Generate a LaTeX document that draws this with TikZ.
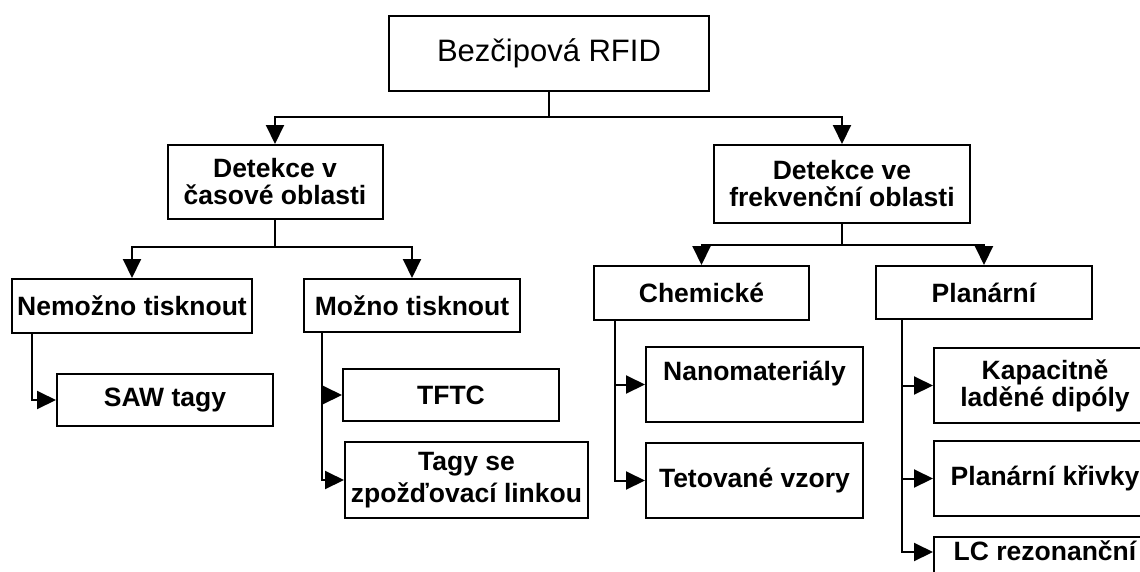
\documentclass[tikz,border=0pt]{standalone}
\usepackage{fontspec}
\setmainfont{Liberation Sans}
\usetikzlibrary{arrows.meta, positioning}

\begin{document}
\begin{tikzpicture}[x=1pt, y=-1pt,
  box/.style={draw, line width=2pt, align=center, inner sep=4pt, font=\fontsize{26.5}{27}\selectfont\bfseries},
  link/.style={line width=2pt},
  arr/.style={line width=2pt, -{Triangle[length=19pt, width=18pt]}}]

  \useasboundingbox (0,0) rectangle (1140,571);
  \fill[white] (0,0) rectangle (1140,571);
  \clip (0,0) rectangle (1140,571);

  % Root
  \node[box, font=\fontsize{31}{32}\selectfont, minimum width=320, minimum height=75] (root) at (549,53.5) {Bezčipová RFID};

  % Time and frequency domain
  \node[box, minimum width=215, minimum height=74] (tdet) at (275,182) {Detekce v\\ časové oblasti};
  \node[box, minimum width=256, minimum height=78] (fdet) at (842,184) {Detekce ve\\ frekvenční oblasti};

  % Third level
  \node[box, minimum width=240, minimum height=54] (nemoz) at (132,306) {Nemožno tisknout};
  \node[box, minimum width=216, minimum height=53] (moz) at (412,305.5) {Možno tisknout};
  \node[box, minimum width=215, minimum height=54] (chem) at (701.5,293) {Chemické};
  \node[box, minimum width=216, minimum height=53] (planar) at (984,292.5) {Planární};

  % Leaves
  \node[box, minimum width=216, minimum height=52] (saw) at (165,400) {SAW tagy};
  \node[box, minimum width=216, minimum height=52] (tftc) at (451,395) {TFTC};
  \node[box, minimum width=243, minimum height=76, font=\fontsize{26.5}{32}\selectfont\bfseries] (delay) at (466.5,480) {Tagy se\\ zpožďovací linkou};
  \node[box, minimum width=217, minimum height=75] (nano) at (754.5,384.5) {Nanomateriály\\ \mbox{}};
  \node[box, minimum width=217, minimum height=75] (tattoo) at (754.5,480.5) {Tetované vzory};
  \node[box, minimum width=222, minimum height=75] (capdip) at (1045,385.5) {Kapacitně\\ laděné dipóly};
  \node[box, minimum width=222, minimum height=75] (curves) at (1045,478.5) {Planární křivky};
  \node[box, anchor=north, minimum width=222, text height=19pt, text depth=48pt] (lcres) at (1045,536) {LC rezonanční};

  % Junctions
  \coordinate[below=25pt of root] (rj);
  \coordinate[below=27pt of tdet] (tj);
  \coordinate[below=21pt of fdet] (fj);

  % Tree connectors
  \draw[link] (root) -- (rj);
  \draw[arr] (rj) -| (tdet);
  \draw[arr] (rj) -| (fdet);

  \draw[link] (tdet) -- (tj);
  \draw[arr] (tj) -| (nemoz);
  \draw[arr] (tj) -| (moz);

  \draw[link] (fdet) -- (fj);
  \draw[arr] (fj) -| (chem);
  \draw[arr] (fj) -| (planar);

  % Side connectors
  \draw[arr] ([xshift=21pt]nemoz.south west) |- (saw);
  \draw[arr] ([xshift=19pt]moz.south west) |- (tftc);
  \draw[arr] ([xshift=19pt]moz.south west) |- (delay);
  \draw[arr] ([xshift=22pt]chem.south west) |- (nano);
  \draw[arr] ([xshift=22pt]chem.south west) |- (tattoo);
  \draw[arr] ([xshift=27pt]planar.south west) |- (capdip);
  \draw[arr] ([xshift=27pt]planar.south west) |- (curves);
  \draw[arr] ([xshift=27pt]planar.south west) |- ([yshift=-16pt]lcres.north west);
\end{tikzpicture}
\end{document}
